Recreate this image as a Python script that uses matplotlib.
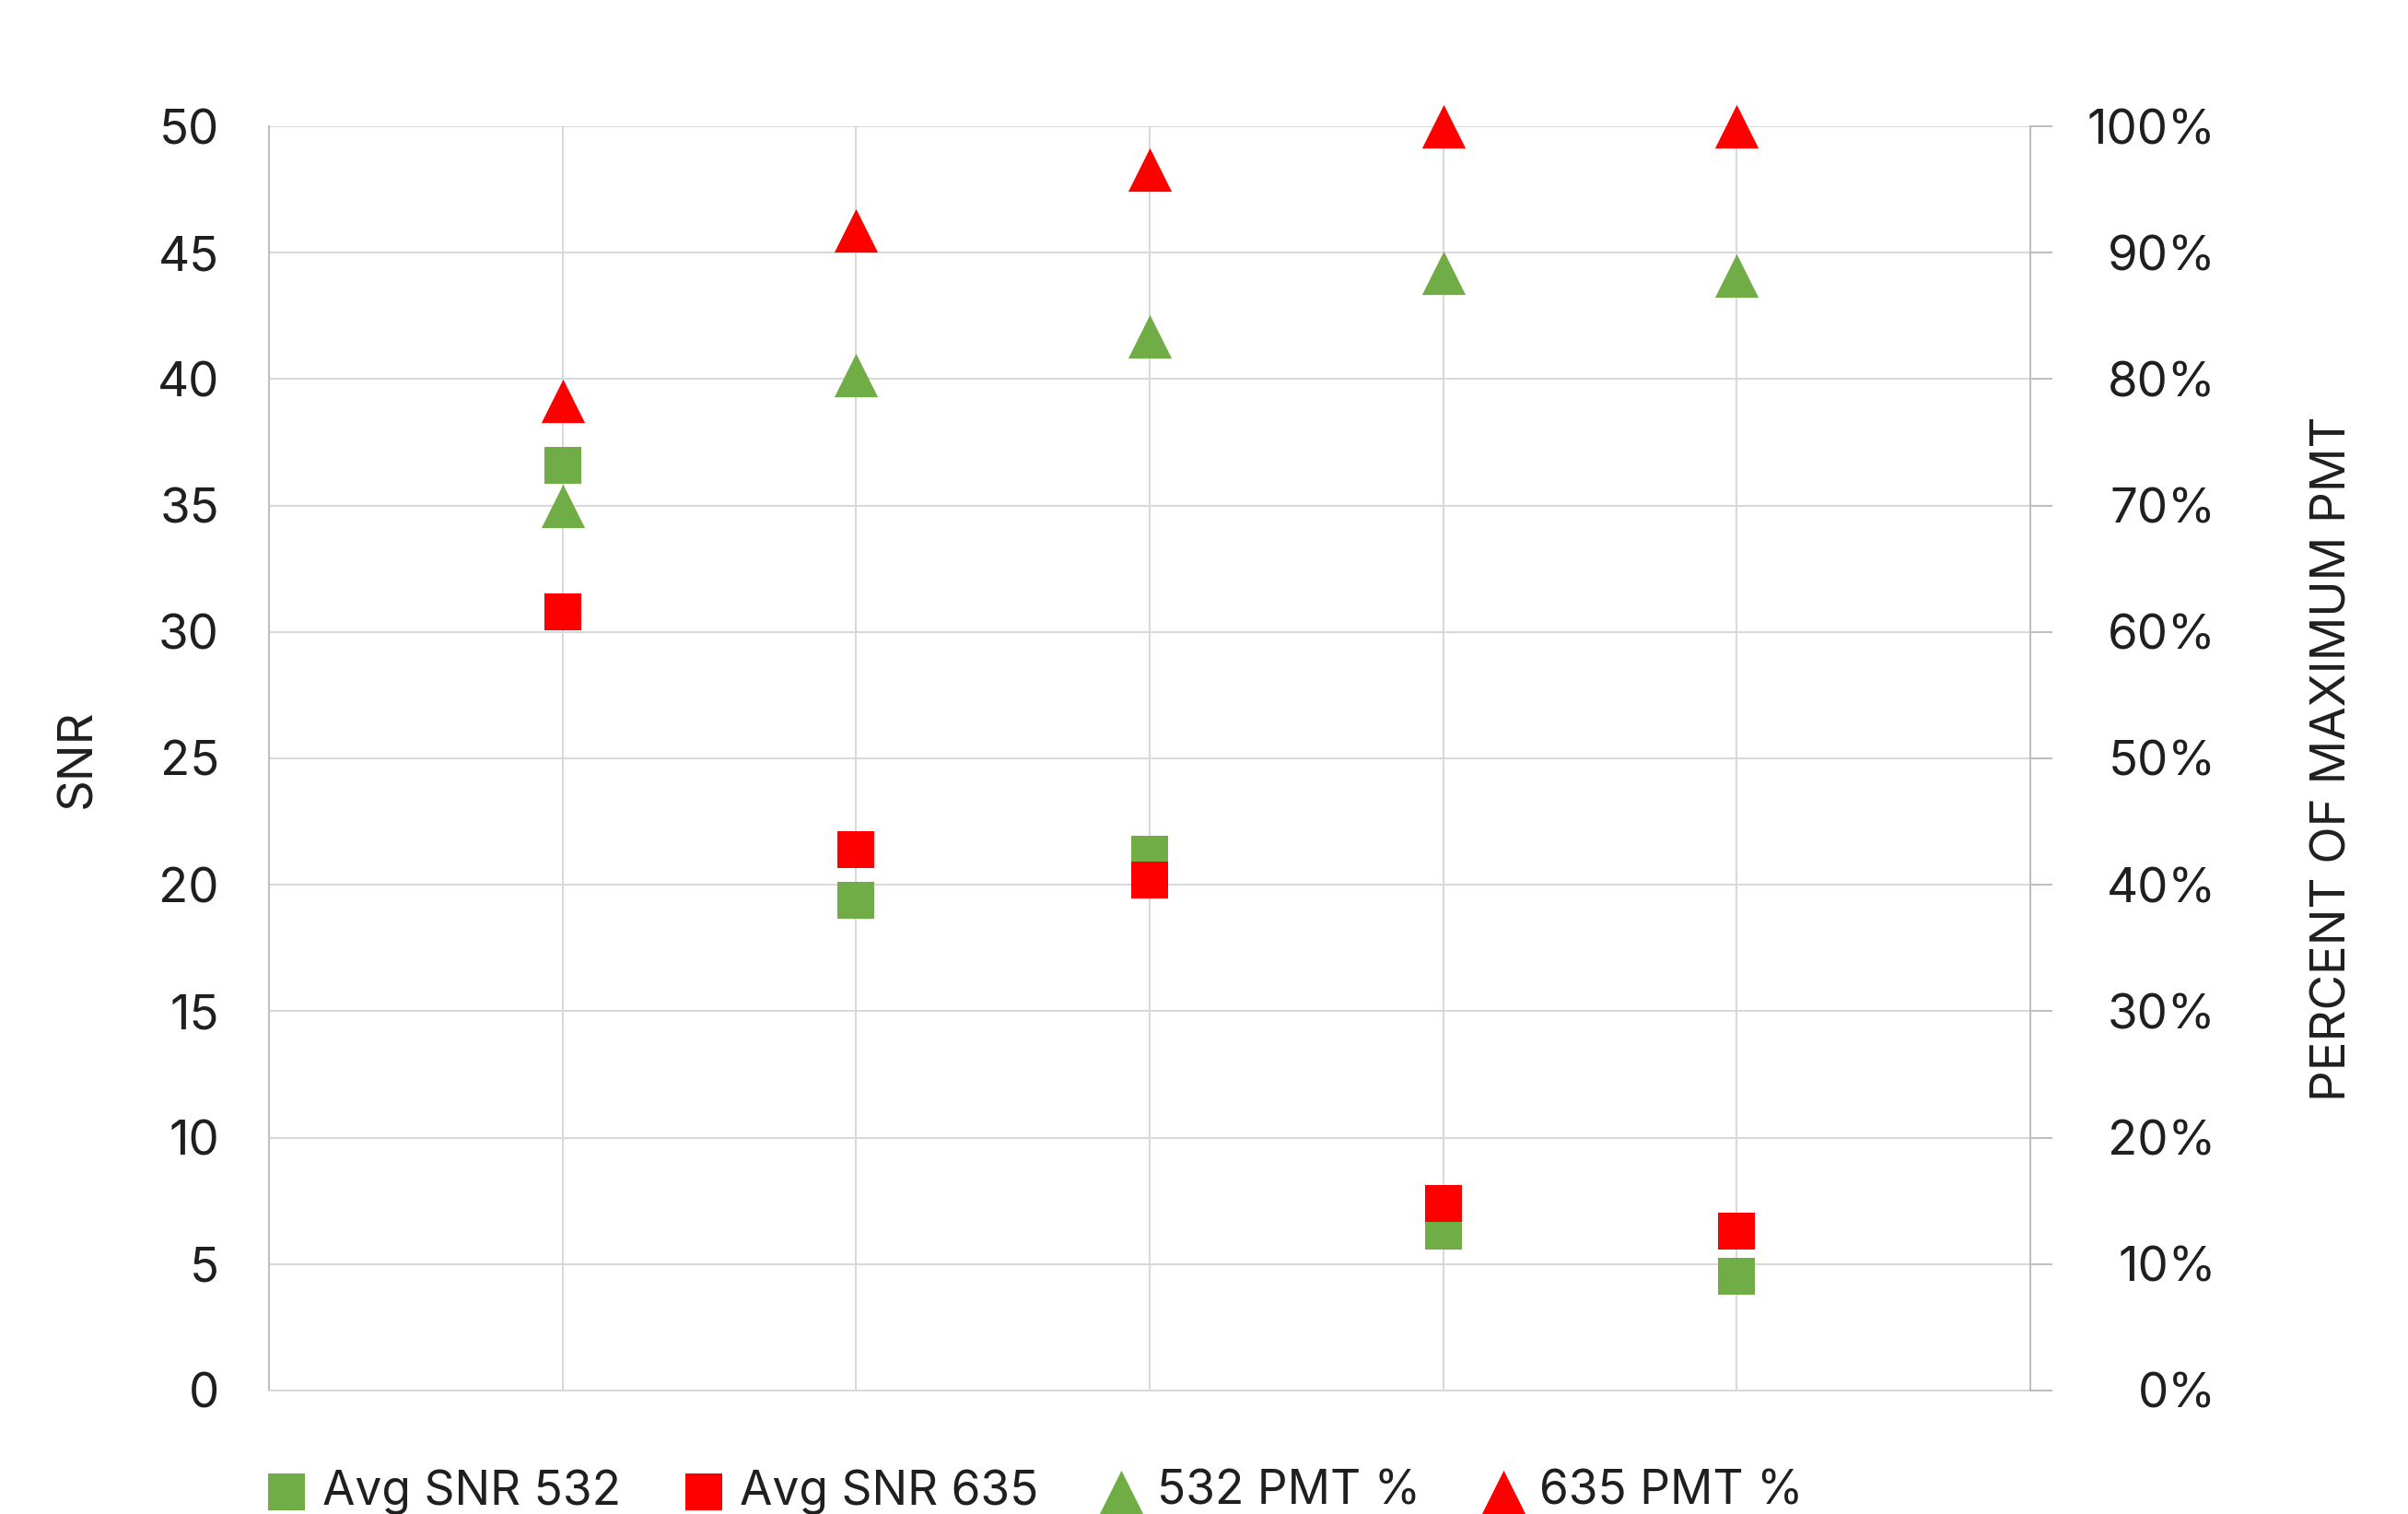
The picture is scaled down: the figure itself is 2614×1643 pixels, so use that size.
import matplotlib.pyplot as plt
from matplotlib.ticker import MultipleLocator, PercentFormatter

# SNR and PMT setting per sample, five samples
samples = [1, 2, 3, 4, 5]
avg_snr_532 = [36.6, 19.4, 21.2, 6.3, 4.5]
avg_snr_635 = [30.8, 21.4, 20.2, 7.4, 6.3]
pmt_532 = [70.0, 80.3, 83.4, 88.4, 88.2]
pmt_635 = [78.3, 91.8, 96.6, 100.0, 100.0]

GREEN = "#70AD47"
RED = "#FF0000"
TEXT = "#1f1f1f"
GRID = "#d9d9d9"
AXIS = "#bfbfbf"

plt.rcParams["font.family"] = ["Inter", "DejaVu Sans"]
plt.rcParams["text.color"] = TEXT

fig = plt.figure(figsize=(26.14, 16.43), dpi=100)
ax = fig.add_axes([0.1117, 0.0816, 0.7315, 0.835])

sq = 29.5 ** 2
tri = 34 ** 2

ax.scatter(samples, avg_snr_532, marker="s", s=sq, color=GREEN, linewidths=0,
           label="Avg SNR 532", zorder=3, clip_on=False)
ax.scatter(samples, avg_snr_635, marker="s", s=sq, color=RED, linewidths=0,
           label="Avg SNR 635", zorder=4, clip_on=False)

ax.set_xlim(0, 6)
ax.set_ylim(0, 50)
ax.yaxis.set_major_locator(MultipleLocator(5))
ax.set_xticks(samples)
ax.tick_params(axis="x", length=0, labelbottom=False)
ax.tick_params(axis="y", length=0, pad=39, labelsize=38, labelcolor=TEXT)
ax.grid(True, color=GRID, linewidth=1.5)
ax.set_axisbelow(True)
for side in ["top", "right"]:
    ax.spines[side].set_visible(False)
ax.spines["left"].set_color(AXIS)
ax.spines["left"].set_linewidth(1.5)
ax.spines["bottom"].set_color(GRID)
ax.spines["bottom"].set_linewidth(1.5)
ax.set_ylabel("SNR", fontsize=38, color=TEXT, labelpad=44)

ax2 = ax.twinx()
ax2.scatter(samples, pmt_532, marker="^", s=tri, color=GREEN, linewidths=0,
            label="532 PMT %", zorder=5, clip_on=False)
ax2.scatter(samples, pmt_635, marker="^", s=tri, color=RED, linewidths=0,
            label="635 PMT %", zorder=6, clip_on=False)
ax2.set_ylim(0, 100)
ax2.yaxis.set_major_locator(MultipleLocator(10))
ax2.yaxis.set_major_formatter(PercentFormatter(decimals=0))
ax2.tick_params(axis="y", direction="out", length=17, width=1.5, color=AXIS,
                pad=128, labelsize=38, labelcolor=TEXT)
for lbl in ax2.get_yticklabels():
    lbl.set_horizontalalignment("right")
for side in ["top", "left", "bottom"]:
    ax2.spines[side].set_visible(False)
ax2.spines["right"].set_color(AXIS)
ax2.spines["right"].set_linewidth(1.5)
ax2.set_ylabel("PERCENT OF MAXIMUM PMT", fontsize=38, color=TEXT, labelpad=74)

h1, l1 = ax.get_legend_handles_labels()
h2, l2 = ax2.get_legend_handles_labels()
fig.legend(h1 + h2, l1 + l2, loc="center left", bbox_to_anchor=(0.111, 0.0145),
           ncol=4, frameon=False, fontsize=37, markerscale=1.0,
           handlelength=0.8, handletextpad=0.36, columnspacing=1.35,
           borderpad=0, borderaxespad=0)

fig.savefig("out.png", dpi=100, facecolor="white")
